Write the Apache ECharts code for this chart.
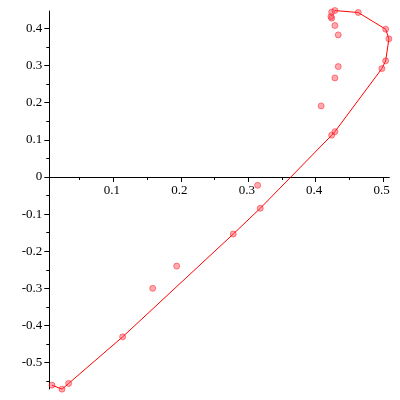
<!DOCTYPE html>
<html>
<head>
<meta charset="utf-8">
<script src="https://cdn.jsdelivr.net/npm/echarts@6/dist/echarts.min.js"></script>
<style>html,body{margin:0;padding:0;background:#fff}#c{width:400px;height:400px}</style>
</head>
<body>
<div id="c"></div>
<script>
// Scatter data (x, y)
const pointsX = [0.0092,0.024,0.0339,0.1139,0.1584,0.194,0.2778,0.3139,0.3178,0.408,0.4236,0.4284,0.4284,0.4333,0.498,0.5036,0.5084,0.5036,0.463,0.4333,0.4284,0.4236,0.4225,0.4236,0.4284];
const pointsY = [-0.5606,-0.5714,-0.556,-0.4305,-0.300,-0.240,-0.1536,-0.0224,-0.0844,0.1914,0.1124,0.1221,0.2668,0.2973,0.2919,0.3127,0.372,0.398,0.4429,0.3827,0.4078,0.4278,0.432,0.444,0.4482];
// Curve (x, y)
const curveX = [0.0092,0.024,0.0339,0.1139,0.2778,0.3178,0.4236,0.4284,0.498,0.5036,0.5084,0.5036,0.463,0.4284];
const curveY = [-0.5606,-0.5714,-0.556,-0.4305,-0.1536,-0.0844,0.1124,0.1221,0.2919,0.3127,0.372,0.398,0.4429,0.4482];
// Tick values
const xMajor = [0.1,0.2,0.3,0.4,0.5];
const xMinor = [0.05,0.15,0.25,0.35,0.45];
const yMajor = [-0.5,-0.4,-0.3,-0.2,-0.1,0,0.1,0.2,0.3,0.4];
const yMinor = [-0.55,-0.45,-0.35,-0.25,-0.15,-0.05,0.05,0.15,0.25,0.35];

const scatterData = pointsX.map((x,i)=>[x,pointsY[i]]);
const curveData = curveX.map((x,i)=>[x,curveY[i]]);
const fmt = v => String(Math.round(v*10)/10);
const font = {fontFamily:'Liberation Serif', fontSize:13, color:'#000'};
const xr = {min:0.0052, max:0.509};
const yr = {min:-0.571, max:0.447};

const gridTop = 11, gridBottom = 11, H = 400;
const gridH = H - gridTop - gridBottom;
// place the horizontal axis where y = 0 (measured up from the grid bottom)
const zeroOffset = -gridH * (0 - yr.min) / (yr.max - yr.min);

const chart = echarts.init(document.getElementById('c'));
chart.setOption({
  animation:false,
  grid:{left:49.3, right:10.7, top:gridTop, bottom:gridBottom, containLabel:false, outerBoundsMode:'none'},
  xAxis:[
    Object.assign({type:'value', position:'bottom', gridIndex:0, offset:zeroOffset,
      axisLine:{show:true, onZero:false, lineStyle:{color:'#000', width:1}},
      axisTick:{show:true, length:5, customValues:xMajor, lineStyle:{color:'#000'}},
      axisLabel:Object.assign({show:true, margin:7, customValues:xMajor, formatter:fmt, padding:[0,3,0,0]}, font),
      splitLine:{show:false}}, xr),
    Object.assign({type:'value', position:'bottom', gridIndex:0, offset:zeroOffset,
      axisLine:{show:false, onZero:false},
      axisTick:{show:true, length:3, customValues:xMinor, lineStyle:{color:'#000'}},
      axisLabel:{show:false},
      splitLine:{show:false}}, xr)
  ],
  yAxis:[
    Object.assign({type:'value', position:'left', gridIndex:0,
      axisLine:{show:true, onZero:false, lineStyle:{color:'#000', width:1}},
      axisTick:{show:true, length:5, customValues:yMajor, lineStyle:{color:'#000'}},
      axisLabel:Object.assign({show:true, margin:7, customValues:yMajor, formatter:fmt}, font),
      splitLine:{show:false}}, yr),
    Object.assign({type:'value', position:'left', gridIndex:0,
      axisLine:{show:false, onZero:false},
      axisTick:{show:true, length:3, customValues:yMinor, lineStyle:{color:'#000'}},
      axisLabel:{show:false},
      splitLine:{show:false}}, yr)
  ],
  series:[
    {type:'line', data:curveData, xAxisIndex:0, yAxisIndex:0, showSymbol:false, symbol:'none',
      clip:false, lineStyle:{color:'#ff0000', width:1}, z:2},
    {type:'scatter', data:scatterData, xAxisIndex:0, yAxisIndex:0, symbol:'circle', symbolSize:6,
      clip:false, itemStyle:{color:'rgba(255,60,80,0.55)', borderColor:'rgba(255,0,0,0.55)', borderWidth:1}, z:3}
  ]
});
</script>
</body>
</html>
